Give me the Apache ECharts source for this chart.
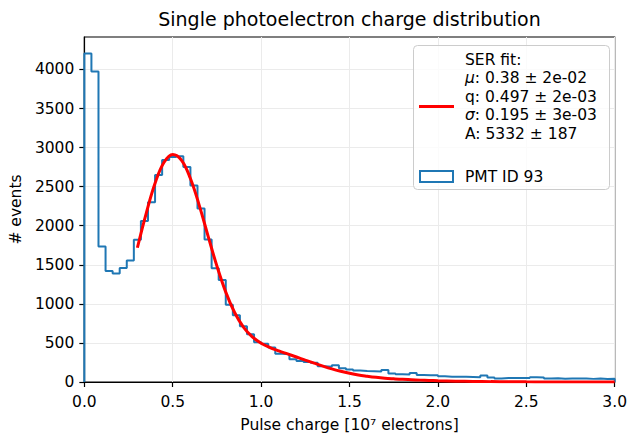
<!DOCTYPE html>
<html><head><meta charset="utf-8">
<script src="https://cdn.jsdelivr.net/npm/echarts@6/dist/echarts.min.js"></script>
<style>html,body{margin:0;padding:0;background:#fff}#c{width:630px;height:438px}</style>
</head><body><div id="c"></div>
<script>
// ---- data ----
const binStart = 0.0;
const binWidth = 0.04;
const histCounts = [4205,3975,1735,1420,1390,1460,1555,1820,2060,2300,
  2650,2840,2880,2890,2750,2515,2220,1825,1455,1305,
  990,855,715,610,510,490,440,360,355,290,
  270,255,245,200,195,215,175,160,148,140,
  138,135,152,110,98,95,115,88,86,85,
  75,68,66,67,65,60,82,58,45,52,
  50,52,50,60,58,45,48,42,46,44,
  45,40,44,38,42];
const fitX = [0.30,0.35,0.40,0.45,0.50,0.55,0.60,0.65,0.70,0.75,0.80,0.85,0.90,0.95,
  1.00,1.05,1.10,1.15,1.20,1.25,1.30,1.35,1.40,1.45,1.50,1.55,1.60,1.65,1.70,1.75,
  1.80,1.85,1.90,1.95,2.00,2.10,2.20,2.30,2.40,2.50,2.60,2.70,2.80,2.90,3.00];
const fitY = [1718,2159,2543,2808,2912,2837,2604,2261,1867,1483,1150,890,703,578,
  496,441,398,359,320,280,241,203,168,138,112,90,74,60,49,41,
  34,29,24,20,16.5,11,7.4,4.8,3.1,2.0,1.3,0.9,0.6,0.4,0.3];
const yTickValues = [0,500,1000,1500,2000,2500,3000,3500,4000];
const legendFitLines = ['SER fit:', '{i|μ}: 0.38 ± 2e-02', 'q: 0.497 ± 2e-03', '{i|σ}: 0.195 ± 3e-03', 'A: 5332 ± 187'];
const histName = 'PMT ID 93';
const titleText = 'Single photoelectron charge distribution';
const xName = 'Pulse charge [10⁷ electrons]';
const yName = '# events';

// ---- build series ----
const histData = [[binStart, 0]];
histCounts.forEach((c, i) => histData.push([+(binStart + i * binWidth).toFixed(4), c]));
const xEnd = +(binStart + histCounts.length * binWidth).toFixed(4);
histData.push([xEnd, histCounts[histCounts.length - 1]]);
histData.push([xEnd, 0]);
const fitData = fitX.map((x, i) => [x, fitY[i]]);

const F = 'DejaVu Sans';
const FS = 15.5;
const chart = echarts.init(document.getElementById('c'), null, {renderer: 'svg', width: 630, height: 438});

const legendTexts = legendFitLines.map((t, k) => ({
  type: 'text', x: 465, y: 59.5 + k * 18.6, z: 101,
  style: {text: t, fontFamily: F, fontSize: FS, fill: '#000', verticalAlign: 'middle', align: 'left',
    rich: {i: {fontFamily: F, fontSize: FS, fontStyle: 'italic', fill: '#000'}}}
}));

const option = {
  animation: false,
  backgroundColor: '#fff',
  textStyle: {fontFamily: F},
  title: {text: titleText, left: 349.5, textAlign: 'center', top: 9, padding: 0,
    textStyle: {fontFamily: F, fontSize: 19, fontWeight: 'normal', color: '#000'}},
  grid: {left: 82, right: 13, top: 37, bottom: 53, show: true, borderColor: '#000', borderWidth: 1.2, backgroundColor: 'transparent'},
  xAxis: {
    type: 'value', min: 0, max: 3, interval: 0.5,
    name: xName, nameLocation: 'middle', nameGap: 35,
    nameTextStyle: {fontFamily: F, fontSize: FS, color: '#000'},
    axisLine: {onZero: false, lineStyle: {color: '#000', width: 1.2}},
    axisTick: {inside: false, length: 5, lineStyle: {color: '#000', width: 1.2}},
    axisLabel: {margin: 12, fontSize: FS, color: '#000', fontFamily: F, formatter: v => v.toFixed(1)},
    splitLine: {show: true, lineStyle: {color: '#ebebeb', width: 1}}
  },
  yAxis: {
    type: 'value', min: 0, max: 4415, interval: 500,
    name: yName, nameLocation: 'middle', nameGap: 58, nameRotate: 90,
    nameTextStyle: {fontFamily: F, fontSize: FS, color: '#000'},
    axisLine: {show: true, onZero: false, lineStyle: {color: '#000', width: 1.2}},
    axisTick: {show: true, inside: false, length: 5, customValues: yTickValues, lineStyle: {color: '#000', width: 1.2}},
    axisLabel: {margin: 10, fontSize: FS, color: '#000', fontFamily: F,
      formatter: v => (yTickValues.indexOf(v) >= 0 ? String(v) : '')},
    splitLine: {show: true, lineStyle: {color: '#ebebeb', width: 1}}
  },
  series: [
    {name: histName, type: 'line', data: histData, step: 'end', symbol: 'none', showSymbol: false,
      lineStyle: {color: '#1f77b4', width: 2}, z: 2, silent: true},
    {name: 'SER fit', type: 'line', data: fitData, smooth: 0.4, symbol: 'none', showSymbol: false,
      lineStyle: {color: '#ff0000', width: 3}, z: 3, silent: true}
  ],
  graphic: [
    {type: 'rect', z: 100, shape: {x: 413.5, y: 45.5, width: 196, height: 144, r: 4},
      style: {fill: 'rgba(255,255,255,0.8)', stroke: '#cccccc', lineWidth: 1}},
    {type: 'line', z: 101, shape: {x1: 419, y1: 106.5, x2: 454, y2: 106.5},
      style: {stroke: '#ff0000', lineWidth: 3}},
    {type: 'rect', z: 101, shape: {x: 420, y: 171, width: 33, height: 11},
      style: {fill: '#fff', stroke: '#1f77b4', lineWidth: 2}},
    {type: 'text', x: 465, y: 176.5, z: 101,
      style: {text: histName, fontFamily: F, fontSize: FS, fill: '#000', verticalAlign: 'middle', align: 'left'}},
    ...legendTexts
  ]
};
chart.setOption(option);
</script>
</body></html>
